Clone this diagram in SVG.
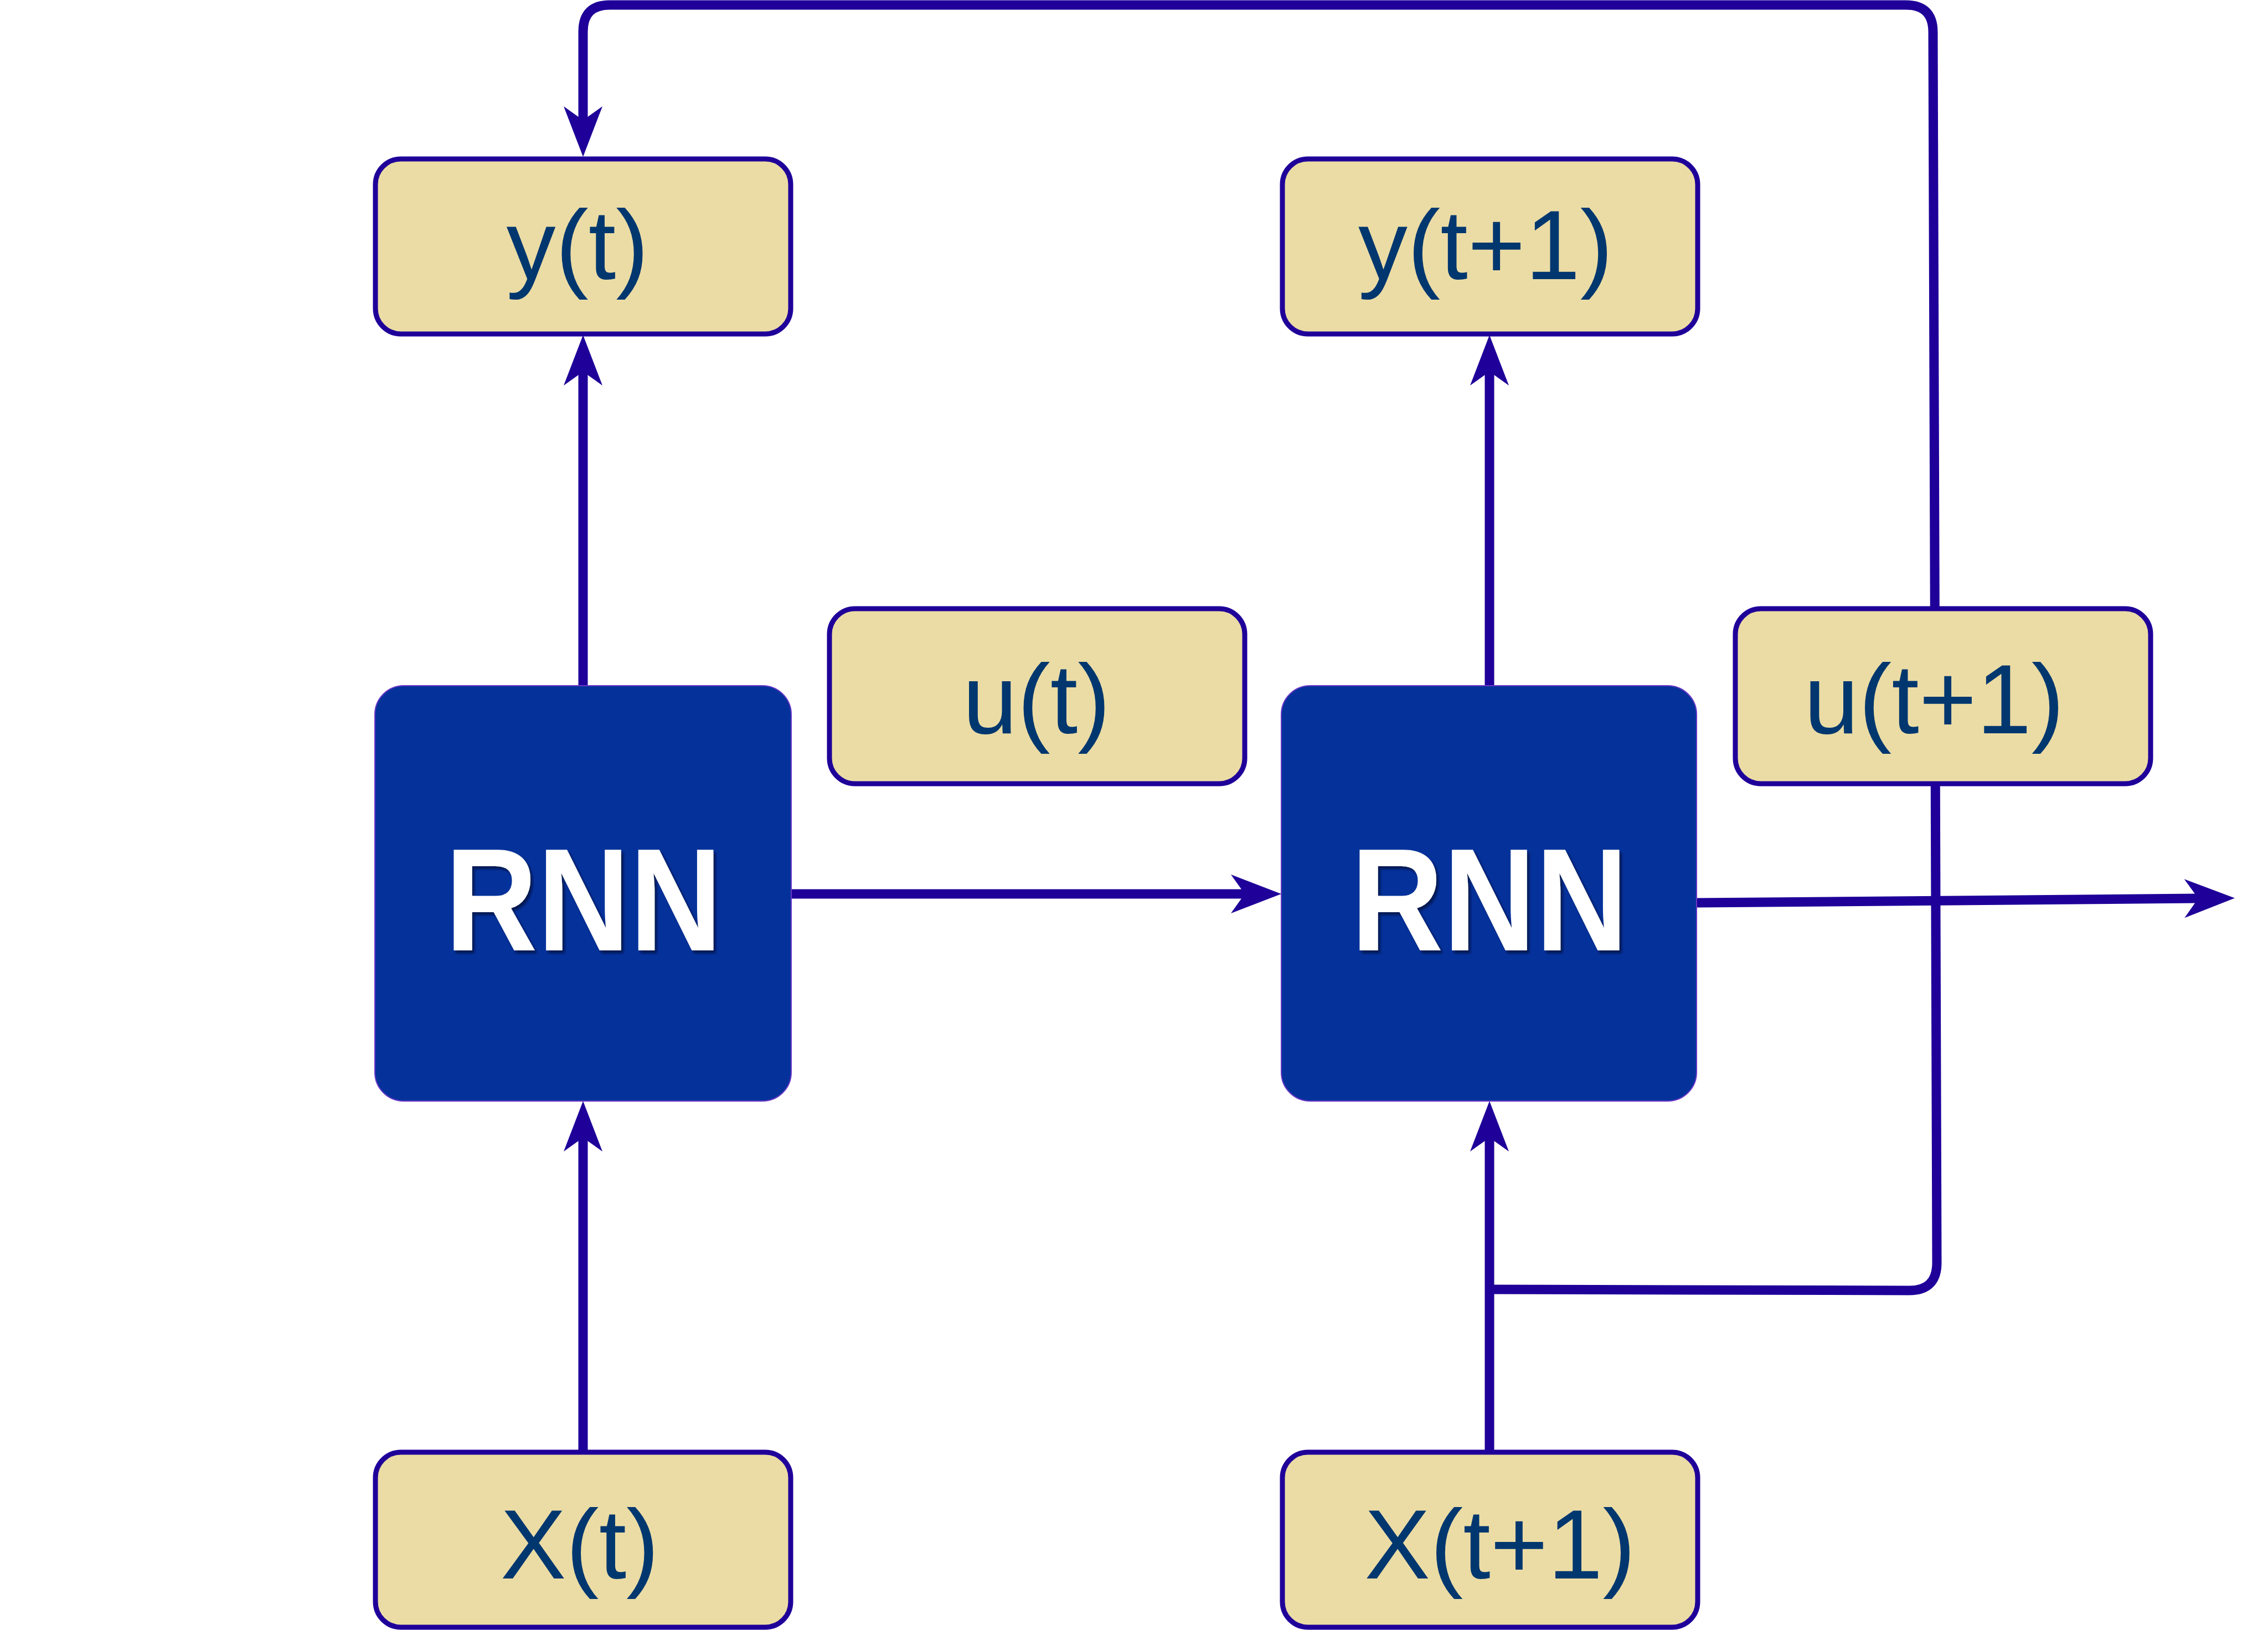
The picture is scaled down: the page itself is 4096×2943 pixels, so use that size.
<svg xmlns="http://www.w3.org/2000/svg" width="4096" height="2943" viewBox="0 0 4096 2943">
<style>
.conn{fill:none;stroke:#1F0099;stroke-width:17;stroke-linejoin:round}
.lbl{fill:#EBDCA5;stroke:#1F0099;stroke-width:9}
.rnn{fill:#05329A;stroke:#6A38C8;stroke-width:2}
.lt{font-family:"Liberation Sans",Arial,sans-serif;font-size:178px;fill:#00376F;text-anchor:middle}
.rt{font-family:"Liberation Sans",Arial,sans-serif;font-size:264px;font-weight:bold;fill:#FFFFFF;text-anchor:middle;filter:url(#sh)}
</style>
<defs>
<marker id="ah" markerUnits="userSpaceOnUse" viewBox="-30 -40 100 80" refX="0" refY="0" markerWidth="100" markerHeight="80" orient="auto">
<path d="M66,0 L-25,-35 L0,0 L-25,35 Z" fill="#1F0099"/>
</marker>
<filter id="sh" x="-10%" y="-10%" width="120%" height="130%">
<feDropShadow dx="4" dy="5" stdDeviation="2" flood-color="#001040" flood-opacity="0.8"/>
</filter>
</defs>
<rect width="4096" height="2943" fill="#FFFFFF"/>
<g id="connectors">
<path class="conn" d="M1053,1238 L1053,671" marker-end="url(#ah)"/>
<path class="conn" d="M1053,2622 L1053,2054" marker-end="url(#ah)"/>
<path class="conn" d="M1429,1614 L2248,1614" marker-end="url(#ah)"/>
<path class="conn" d="M2690,1238 L2690,671" marker-end="url(#ah)"/>
<path class="conn" d="M2690,2622 L2690,2054" marker-end="url(#ah)"/>
<path class="conn" d="M3064,1630 L3970,1622" marker-end="url(#ah)"/>
<path class="conn" d="M2690,2328 L3448,2330 Q3498,2330 3498,2280 L3491,58 Q3491,9 3442,9 L1101,9 Q1053,9 1053,57 L1053,217" marker-end="url(#ah)"/>
</g>
<g id="node-yt"><rect class="lbl" x="678" y="287" width="750" height="316" rx="46"/><text class="lt" x="1043" y="504">y(t)</text></g>
<g id="node-yt1"><rect class="lbl" x="2316" y="287" width="750" height="316" rx="46"/><text class="lt" x="2683" y="504">y(t+1)</text></g>
<g id="node-ut"><rect class="lbl" x="1498" y="1099" width="750" height="316" rx="46"/><text class="lt" x="1872" y="1324">u(t)</text></g>
<g id="node-ut1"><rect class="lbl" x="3134" y="1099" width="750" height="316" rx="46"/><text class="lt" x="3493" y="1324">u(t+1)</text></g>
<g id="node-rnn1"><rect class="rnn" x="677" y="1238" width="752" height="750" rx="52"/><text class="rt" x="1054" y="1716" textLength="500" lengthAdjust="spacingAndGlyphs">RNN</text></g>
<g id="node-rnn2"><rect class="rnn" x="2314" y="1238" width="750" height="750" rx="52"/><text class="rt" x="2690" y="1716" textLength="500" lengthAdjust="spacingAndGlyphs">RNN</text></g>
<g id="node-xt"><rect class="lbl" x="678" y="2622" width="750" height="316" rx="46"/><text class="lt" x="1047" y="2850">X(t)</text></g>
<g id="node-xt1"><rect class="lbl" x="2316" y="2622" width="750" height="316" rx="46"/><text class="lt" x="2709" y="2850">X(t+1)</text></g>
</svg>
